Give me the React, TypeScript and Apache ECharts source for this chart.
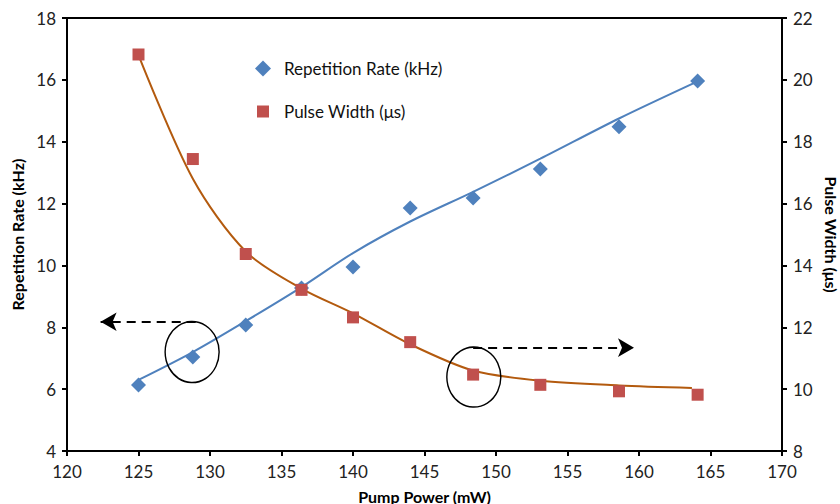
import React, { useEffect, useRef } from "react";
import * as echarts from "echarts";

const pumpPower = [125, 128.8, 132.5, 136.4, 140, 144, 148.4, 153.1, 158.6, 164.1];
const repRate = [6.13, 7.04, 8.07, 9.27, 9.95, 11.86, 12.18, 13.12, 14.48, 15.96];
const pulseWidth = [20.82, 17.44, 14.37, 13.21, 12.32, 11.52, 10.47, 10.14, 9.93, 9.82];

const repFitX = [125, 128.8, 132.5, 136.4, 140, 144, 148.4, 153.1, 158.6, 164.1];
const repFitY = [6.3, 7.2, 8.2, 9.3, 10.4, 11.42, 12.38, 13.45, 14.75, 15.95];
const pwFitX = [125, 128.8, 132.5, 136.4, 140, 144, 148.4, 153.1, 158.6, 163.7];
const pwFitY = [20.8, 16.8, 14.45, 13.25, 12.45, 11.45, 10.6, 10.27, 10.12, 10.04];

const zip = (xs: number[], ys: number[]) => xs.map((x, i) => [x, ys[i]]);

const BLUE = "#4F81BD";
const RED = "#C0504D";
const BROWN = "#B35A0E";
const FONT = "Lato";

export default function App() {
  const ref = useRef<HTMLDivElement>(null);
  useEffect(() => {
    if (!ref.current) return;
    const chart = echarts.init(ref.current, null, { renderer: "svg" });
    const axisCommon = {
      axisLine: { show: true, lineStyle: { color: "#000", width: 2 } },
      axisTick: { show: true, length: 5, lineStyle: { color: "#000", width: 2 } },
      splitLine: { show: false },
      axisLabel: { color: "#222", fontSize: 17, fontFamily: FONT, margin: 11 },
      nameTextStyle: { color: "#000", fontSize: 16, fontWeight: "bold", fontFamily: FONT },
    };
    chart.setOption({
      animation: false,
      backgroundColor: "#fff",
      grid: {
        left: 67, right: 58, top: 18, bottom: 53, show: true,
        borderColor: "#000", borderWidth: 2, containLabel: false, outerBoundsMode: "none",
      },
      legend: [
        {
          data: [{ name: "Repetition Rate (kHz)", icon: "diamond" }],
          left: 250, top: 55, itemWidth: 16, itemHeight: 16,
          textStyle: { fontSize: 17, fontFamily: FONT, color: "#111", padding: [0, 0, 0, 8] },
        },
        {
          data: [{ name: "Pulse Width (μs)", icon: "rect" }],
          left: 252, top: 98, itemWidth: 12, itemHeight: 12,
          textStyle: { fontSize: 17, fontFamily: FONT, color: "#111", padding: [0, 0, 0, 10] },
        },
      ],
      xAxis: {
        type: "value", min: 120, max: 170, interval: 5,
        name: "Pump Power (mW)", nameLocation: "middle", nameGap: 37,
        ...axisCommon,
        axisLabel: { ...axisCommon.axisLabel, margin: 12 },
      },
      yAxis: [
        {
          type: "value", min: 4, max: 18, interval: 2, position: "left",
          name: "Repetition Rate (kHz)", nameLocation: "middle", nameGap: 42,
          ...axisCommon,
        },
        {
          type: "value", min: 8, max: 22, interval: 2, position: "right",
          name: "Pulse Width (μs)", nameLocation: "middle", nameGap: 41, nameRotate: -90,
          ...axisCommon,
        },
      ],
      series: [
        {
          name: "RepFit", type: "line", yAxisIndex: 0, data: zip(repFitX, repFitY),
          smooth: 0.3, showSymbol: false, symbol: "none",
          lineStyle: { color: BLUE, width: 2 }, z: 2,
        },
        {
          name: "PwFit", type: "line", yAxisIndex: 1, data: zip(pwFitX, pwFitY),
          smooth: 0.3, showSymbol: false, symbol: "none",
          lineStyle: { color: BROWN, width: 2 }, z: 2,
        },
        {
          name: "Repetition Rate (kHz)", type: "scatter", yAxisIndex: 0,
          data: zip(pumpPower, repRate), symbol: "diamond", symbolSize: 15,
          itemStyle: { color: BLUE, opacity: 1 }, z: 3,
          markPoint: {
            symbol: "circle", symbolSize: [54, 61], silent: true,
            label: { show: false },
            itemStyle: { color: "rgba(0,0,0,0)", borderColor: "#000", borderWidth: 1.5, opacity: 1 },
            data: [{ coord: [128.75, 7.2] }],
          },
          markLine: {
            silent: true, symbol: ["none", "arrow"], symbolSize: [14, 16],
            label: { show: false },
            lineStyle: { color: "#000", type: [9, 6], width: 2, opacity: 1 },
            data: [[{ coord: [129, 8.18] }, { coord: [122.35, 8.18] }]],
          },
        },
        {
          name: "Pulse Width (μs)", type: "scatter", yAxisIndex: 1,
          data: zip(pumpPower, pulseWidth), symbol: "rect", symbolSize: 12,
          itemStyle: { color: RED, opacity: 1 }, z: 3,
          markPoint: {
            symbol: "circle", symbolSize: [54, 60], silent: true,
            label: { show: false },
            itemStyle: { color: "rgba(0,0,0,0)", borderColor: "#000", borderWidth: 1.5, opacity: 1 },
            data: [{ coord: [148.45, 10.39] }],
          },
          markLine: {
            silent: true, symbol: ["none", "arrow"], symbolSize: [14, 16],
            label: { show: false },
            lineStyle: { color: "#000", type: [9, 6], width: 2, opacity: 1 },
            data: [[{ coord: [148.4, 11.34] }, { coord: [159.65, 11.34] }]],
          },
        },
      ],
    });
    return () => chart.dispose();
  }, []);
  return <div ref={ref} style={{ width: 840, height: 504, position: "absolute", left: 0, top: 0 }} />;
}
